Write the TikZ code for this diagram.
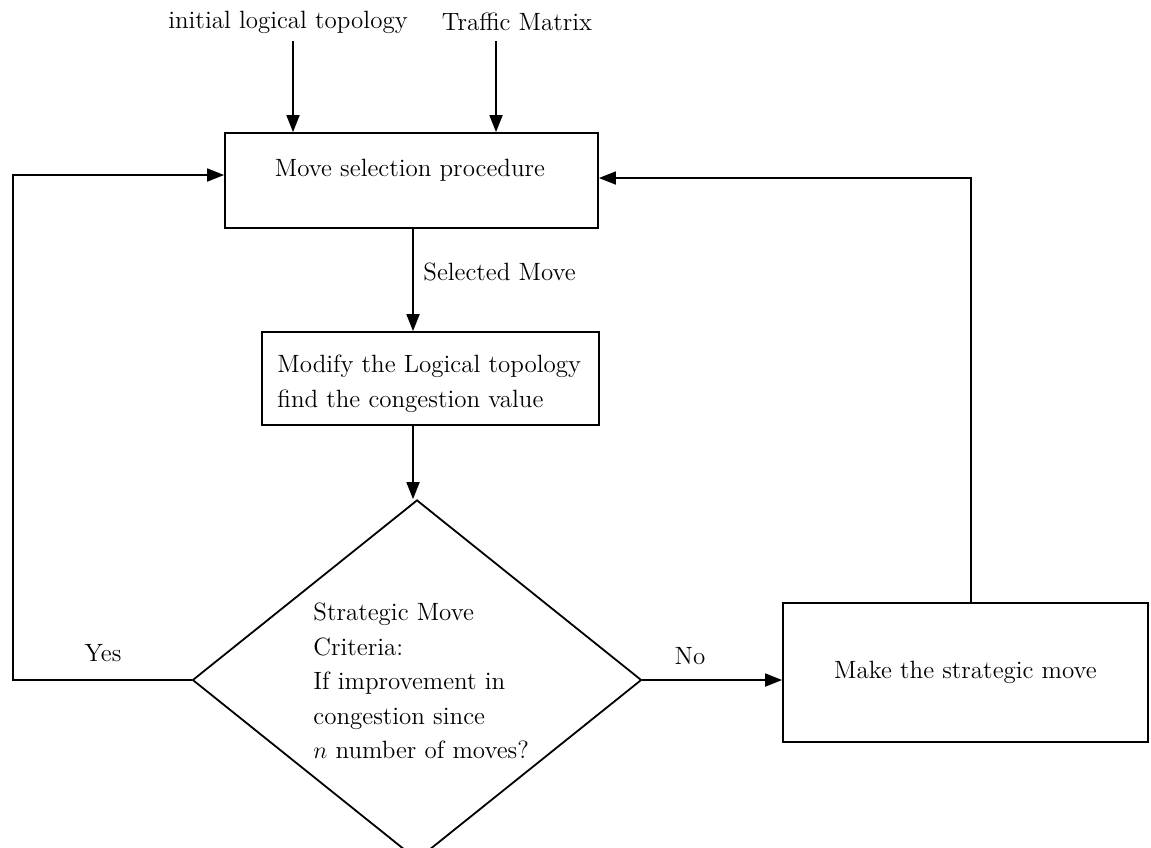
\documentclass[tikz,border=0pt]{standalone}
\usetikzlibrary{arrows.meta,shapes.geometric}
\begin{document}
\begin{tikzpicture}[x=0.5pt,y=-0.5pt,
  every node/.style={font=\fontsize{12.5}{17.25}\selectfont, inner sep=0pt},
  box/.style={draw, line width=0.9pt, rectangle},
  decision/.style={draw, line width=0.9pt, diamond},
  link/.style={line width=0.9pt},
  arr/.style={link, -{Triangle[length=8.5pt,width=6.5pt]}}]
\useasboundingbox (0,0) rectangle (1151,847);

% inputs
\node (l1) at (288,22) {initial logical topology};
\node (l2) at (517,22) {Traffic Matrix};

% process boxes
\node[box, minimum width=186.5pt, minimum height=47.5pt] (b1) at (411.5,180.5) {};
\node (b1t) at (410,170) {Move selection procedure};
\node[box, minimum width=168.5pt, minimum height=46.5pt] (b2) at (430.5,378.5) {};
\node[anchor=west, align=left] (b2t) at (277,384) {Modify the Logical topology\\find the congestion value};
\node[box, minimum width=182.5pt, minimum height=69.5pt] (b3) at (965.5,672.5) {Make the strategic move};

% decision
\node[decision, minimum width=224.5pt, minimum height=180pt] (d) at (417,680) {};
\node[anchor=west, align=left] (dt) at (313,681) {Strategic Move\\Criteria:\\If improvement in\\congestion since\\$n$\ number of moves?};

% edge labels
\node[anchor=west] (sel) at (423,272) {Selected Move};
\node (yes) at (103,653) {Yes};
\node (no) at (690,656) {No};

% routing points
\coordinate (in1) at (293,41);
\coordinate (in2) at (496,41);
\coordinate (spine) at (413,0);
\coordinate (yesc) at (13,175);
\coordinate (ret) at (971,178);

% connectors
\draw[arr] (in1) -- (in1 |- b1.north);
\draw[arr] (in2) -- (in2 |- b1.north);
\draw[arr] (b1.south -| spine) -- (b2.north -| spine);
\draw[arr] (b2.south -| spine) -- (d.north -| spine);
\draw[arr] (d.west) -- (d.west -| yesc) -- (yesc) -- (yesc -| b1.west);
\draw[arr] (d.east) -- (d.east -| b3.west);
\draw[arr] (ret |- b3.north) -- (ret) -- (ret -| b1.east);
\end{tikzpicture}
\end{document}
